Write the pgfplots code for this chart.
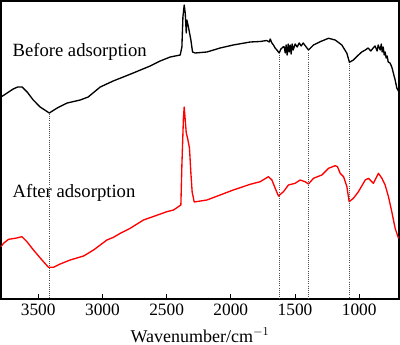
\documentclass[border=0pt]{standalone}
\usepackage{fontspec}
\setmainfont{Liberation Serif}
\usepackage{pgfplots}
\pgfplotsset{compat=1.18}
\begin{document}
\begin{tikzpicture}
\useasboundingbox (-0.75pt,-34.5pt) rectangle (299.25pt,224.25pt);
\begin{axis}[
  at={(0,0)}, anchor=south west,
  scale only axis,
  width=298.5pt, height=223.5pt,
  x dir=reverse,
  xmin=690, xmax=3790,
  y dir=reverse,
  ymin=1, ymax=299,
  ytick=\empty,
  xtick={3500,3000,2500,2000,1500,1000},
  xtick pos=bottom,
  tick align=inside,
  major tick length=4pt,
  /pgf/number format/assume math mode=true,
  /pgf/number format/set thousands separator={},
  xticklabel style={font=\fontsize{13}{15}\selectfont},
  xlabel={},
  axis line style={line width=0.8pt},
  every tick/.style={black, line width=0.6pt},
  clip=true,
]
\addplot[black, line width=1pt, line join=round] coordinates {
(3790,97) (3742,93) (3695,89) (3660,87) (3625,87) (3586,92) (3539,100) (3485,107)
(3414,113) (3352,108) (3274,103) (3173,100) (3111,97) (3017,87) (2916,81) (2760,73)
(2628,66) (2550,61) (2472,57) (2394,55) (2381,47) (2373,17) (2363,5) (2355,13)
(2347,33) (2342,20) (2330,27) (2311,40) (2298,52) (2277,53) (2186,52) (2083,48)
(1981,45) (1849,42) (1771,41.5) (1720,40.5) (1700,42) (1693,39) (1680,43) (1668,45)
(1655,48) (1641,50) (1623,53)
(1610,49) (1590,46.7) (1584,47) (1576,53) (1569,45) (1561,55) (1553,44) (1545,52)
(1537,45) (1530,54) (1522,44) (1514,50) (1499,44) (1483,47) (1467,43) (1452,46)
(1436,43) (1395,50) (1356,45) (1304,41.7)
(1239,38.3) (1187,40) (1135,45) (1096,53.3) (1076,62.3) (1045,60) (1006,55) (980,52)
(953,50) (930,48) (910,51) (891,48) (876,46) (860,51) (852,45) (836,50) (828,44)
(821,52) (813,47) (805,55) (798,52) (790,58) (782,56) (774,62)
(760,63) (746,67) (720,80) (707,88) (690,92)
};
\addplot[red, line width=1pt, line join=round] coordinates {
(3790,246.7) (3770,243.3) (3731,239.3) (3679,238.3) (3627,236.7) (3588,241.7)
(3537,250) (3471,260) (3420,267.3) (3381,267.3) (3329,264) (3251,260) (3147,256)
(3069,250) (2965,240) (2914,237.3) (2861,233.3) (2784,228.3) (2680,220) (2498,211.7)
(2446,210) (2389,205) (2381,165) (2369,118) (2363,107) (2355,120) (2347,133)
(2337,138) (2322,148) (2311,173) (2301,192) (2285,202) (2186,200) (2083,195)
(1981,190) (1849,184.3) (1771,181.7) (1707,176.7) (1680,180) (1654,188.3) (1629,196)
(1590,191.7) (1551,185) (1499,183.3) (1460,180) (1421,181.7) (1395,184) (1356,178.3)
(1291,175) (1239,168.3) (1187,165.7) (1169,166.7) (1148,173.3) (1122,176.7)
(1096,186.7) (1078,201.7) (1045,198.3) (1006,191.7) (953,180) (928,178.3) (889,183.3)
(850,173.3) (823,178.3) (798,185) (772,196.7) (746,211.7) (720,228.3) (694,238.3)
};
\addplot[black!70, densely dotted, line width=0.6pt] coordinates {(3414,114) (3414,299)};
\addplot[black!70, densely dotted, line width=0.6pt] coordinates {(1623,55) (1623,299)};
\addplot[black!70, densely dotted, line width=0.6pt] coordinates {(1395,53) (1395,299)};
\addplot[black!70, densely dotted, line width=0.6pt] coordinates {(1076,64) (1076,299)};
\node[anchor=west, inner sep=0pt, font=\fontsize{14}{16}\selectfont] at (axis cs:3702,52) {Before adsorption};
\node[anchor=west, inner sep=0pt, font=\fontsize{14}{16}\selectfont] at (axis cs:3702,193) {After adsorption};
\end{axis}
\node[anchor=base, inner sep=0pt, font=\fontsize{13.5}{16}\selectfont] at (149.25pt,-32.5pt) {Wavenumber/cm$^{-1}$};
\end{tikzpicture}
\end{document}
